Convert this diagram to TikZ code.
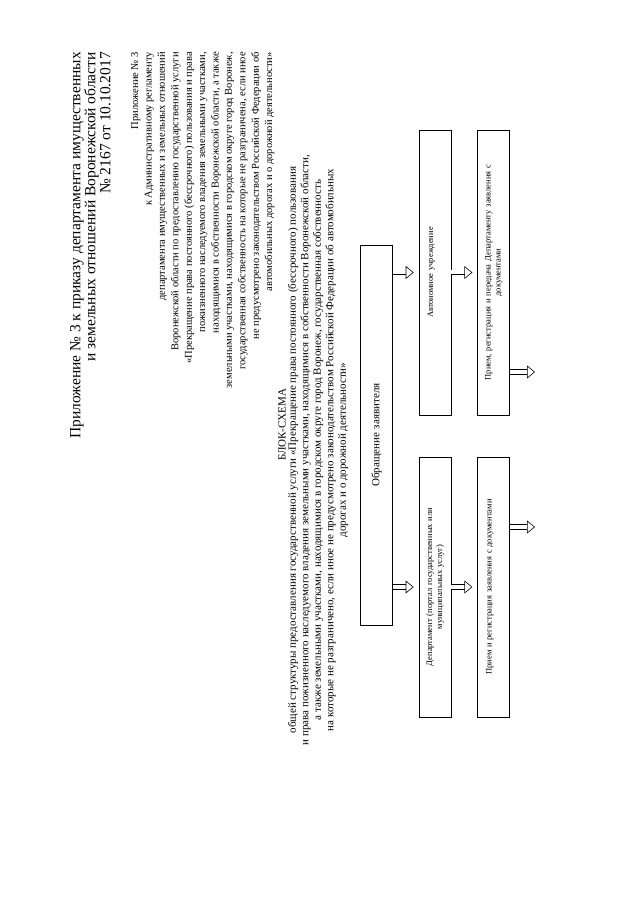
\documentclass[tikz,border=0pt]{standalone}
\usepackage{fontspec}
\setmainfont{Liberation Serif}
\usetikzlibrary{positioning,arrows.meta}
\tikzset{
  stepbox/.style={
    draw,
    line width=0.7pt,
    minimum height=32pt,
    inner xsep=2pt,
    inner ysep=2pt,
    align=center,
    font=\fontsize{8.5}{10}\selectfont
  },
  topline/.style={
    text height=11pt,
    text depth=15pt
  },
  plaintext/.style={
    inner sep=0pt
  },
  link/.style={
    double,
    double distance=4pt,
    line width=0.6pt,
    shorten >=5pt,
    -{Triangle[open,length=8pt,width=13pt]}
  }
}

\begin{document}
\begin{tikzpicture}[x=1pt,y=1pt]
\useasboundingbox (0,0) rectangle (640,905);

\begin{scope}[shift={(640,0)},rotate=90,every node/.append style={transform shape}]

% header
\node[plaintext, anchor=north east, align=right,
      font=\fontsize{15.5}{15}\selectfont] (order) at (853,570) {
Приложение № 3 к приказу департамента имущественных\\
и земельных отношений Воронежской области\\
№ 2167 от 10.10.2017
};

\node[plaintext, anchor=north east, align=right,
      font=\fontsize{10.5}{13.4}\selectfont] (appx) at (853,509) {
Приложение № 3\\
к Административному регламенту\\
департамента имущественных и земельных отношений\\
Воронежской области по предоставлению государственной услуги\\
«Прекращение права постоянного (бессрочного) пользования и права\\
пожизненного наследуемого владения земельными участками,\\
находящимися в собственности Воронежской области, а также\\
земельными участками, находящимися в городском округе город Воронеж,\\
государственная собственность на которые не разграничена, если иное\\
не предусмотрено законодательством Российской Федерации об\\
автомобильных дорогах и о дорожной деятельности»
};

\node[plaintext, font=\fontsize{11}{12.5}\selectfont] (schema) at (480,358) {БЛОК-СХЕМА};

\node[plaintext, align=center, font=\fontsize{11}{12.5}\selectfont] (scope) at (455,322) {
общей структуры предоставления государственной услуги «Прекращение права постоянного (бессрочного) пользования\\
и права пожизненного наследуемого владения земельными участками, находящимися в собственности Воронежской области,\\
а также земельными участками, находящимися в городском округе город Воронеж, государственная собственность\\
на которые не разграничено, если иное не предусмотрено законодательством Российской Федерации об автомобильных\\
дорогах и о дорожной деятельности»
};

% blocks
\node[stepbox, text width=376pt, font=\fontsize{11}{12}\selectfont] (appeal) at (470,263.5) {Обращение заявителя};

\node[stepbox, text width=256pt] (dept) at (318,205) {
Департамент (портал государственных или\\
муниципальных услуг)
};

\node[stepbox, topline, text width=281pt] (auton) at (632.5,205) {Автономное учреждение};

\node[stepbox, topline, text width=256pt, below=26pt of dept] (deptreg) {
Прием и регистрация заявления с документами
};

\node[stepbox, text width=281pt, below=26pt of auton] (autonreg) {
Прием, регистрация и передача Департаменту заявления с\\
документами
};

\coordinate (deptout) at (378,105);
\coordinate (autonout) at (533,105);

\draw[link] (dept.north |- appeal.south) -- (dept.north);
\draw[link] (auton.north |- appeal.south) -- (auton.north);
\draw[link] (dept.south) -- (deptreg.north);
\draw[link] (auton.south) -- (autonreg.north);
\draw[link, shorten >=0pt] (deptout |- deptreg.south) -- (deptout);
\draw[link, shorten >=0pt] (autonout |- autonreg.south) -- (autonout);

\end{scope}
\end{tikzpicture}
\end{document}
